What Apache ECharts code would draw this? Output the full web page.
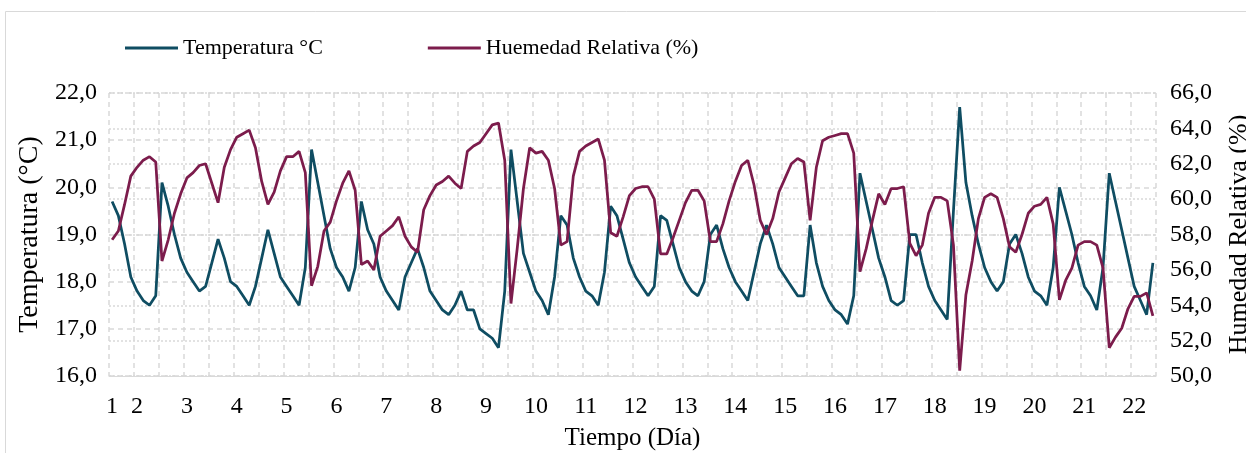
<!doctype html>
<html>
    <head>
        <meta charset="utf-8">
        <title>Temperatura y humedad relativa</title>
        <style>
            html, body { margin: 0; padding: 0; background: #fff; }
            #main { width: 1246px; height: 453px; }
        </style>
    </head>
    <body>
        <div id="main"></div>
        <script src="https://cdn.jsdelivr.net/npm/echarts@6/dist/echarts.min.js"></script>
        <script>
            // one reading every 3 hours, 8 per day
            var temperatura = [
                19.7, 19.4, 18.8, 18.1, 17.8, 17.6, 17.5, 17.7,
                20.1, 19.6, 19.0, 18.5, 18.2, 18.0, 17.8, 17.9,
                18.4, 18.9, 18.5, 18.0, 17.9, 17.7, 17.5, 17.9,
                18.5, 19.1, 18.6, 18.1, 17.9, 17.7, 17.5, 18.3,
                20.8, 20.1, 19.4, 18.7, 18.3, 18.1, 17.8, 18.3,
                19.7, 19.1, 18.8, 18.1, 17.8, 17.6, 17.4, 18.1,
                18.4, 18.7, 18.3, 17.8, 17.6, 17.4, 17.3, 17.5,
                17.8, 17.4, 17.4, 17.0, 16.9, 16.8, 16.6, 17.8,
                20.8, 19.7, 18.6, 18.2, 17.8, 17.6, 17.3, 18.1,
                19.4, 19.2, 18.5, 18.1, 17.8, 17.7, 17.5, 18.2,
                19.6, 19.4, 18.9, 18.4, 18.1, 17.9, 17.7, 17.9,
                19.4, 19.3, 18.8, 18.3, 18.0, 17.8, 17.7, 18.0,
                19.0, 19.2, 18.7, 18.3, 18.0, 17.8, 17.6, 18.2,
                18.8, 19.2, 18.8, 18.3, 18.1, 17.9, 17.7, 17.7,
                19.2, 18.4, 17.9, 17.6, 17.4, 17.3, 17.1, 17.7,
                20.3, 19.7, 19.1, 18.5, 18.1, 17.6, 17.5, 17.6,
                19.0, 19.0, 18.4, 17.9, 17.6, 17.4, 17.2, 19.5,
                21.7, 20.1, 19.4, 18.8, 18.3, 18.0, 17.8, 18.0,
                18.8, 19.0, 18.6, 18.1, 17.8, 17.7, 17.5, 18.3,
                20.0, 19.5, 19.0, 18.4, 17.9, 17.7, 17.4, 18.3,
                20.3, 19.7, 19.1, 18.5, 17.9, 17.6, 17.3, 18.4
            ];
            var humedad = [
                57.7, 58.2, 59.7, 61.3, 61.8, 62.2, 62.4, 62.1,
                56.5, 57.7, 59.2, 60.3, 61.2, 61.5, 61.9, 62.0,
                60.9, 59.8, 61.8, 62.8, 63.5, 63.7, 63.9, 62.9,
                61.0, 59.7, 60.4, 61.6, 62.4, 62.4, 62.7, 61.5,
                55.1, 56.2, 58.2, 58.7, 59.9, 60.9, 61.6, 60.5,
                56.3, 56.5, 56.0, 57.9, 58.2, 58.5, 59.0, 57.9,
                57.3, 57.0, 59.4, 60.2, 60.8, 61.0, 61.3, 60.9,
                60.6, 62.7, 63.0, 63.2, 63.7, 64.2, 64.3, 62.2,
                54.1, 57.2, 60.6, 62.9, 62.6, 62.7, 62.2, 60.6,
                57.4, 57.6, 61.3, 62.7, 63.0, 63.2, 63.4, 62.2,
                58.1, 57.9, 59.0, 60.2, 60.6, 60.7, 60.7, 60.0,
                56.9, 56.9, 57.8, 58.8, 59.8, 60.5, 60.5, 59.9,
                57.6, 57.6, 58.6, 59.9, 61.0, 61.9, 62.2, 60.8,
                58.8, 58.0, 58.9, 60.4, 61.2, 62.0, 62.3, 62.1,
                58.8, 61.8, 63.3, 63.5, 63.6, 63.7, 63.7, 62.6,
                55.9, 57.2, 58.8, 60.3, 59.7, 60.6, 60.6, 60.7,
                57.5, 56.8, 57.4, 59.2, 60.1, 60.1, 59.9, 57.4,
                50.3, 54.6, 56.5, 58.9, 60.1, 60.3, 60.1, 58.9,
                57.3, 57.0, 58.0, 59.2, 59.6, 59.7, 60.1, 58.6,
                54.3, 55.4, 56.1, 57.4, 57.6, 57.6, 57.4, 56.1,
                51.6, 52.2, 52.7, 53.8, 54.5, 54.5, 54.7, 53.4
            ];
            // day labels and the reading where each one sits
            var dayLabels = ['1', '2', '3', '4', '5', '6', '7', '8', '9', '10', '11',
                             '12', '13', '14', '15', '16', '17', '18', '19', '20', '21', '22'];
            var dayLabelIndex = [0, 4, 12, 20, 28, 36, 44, 52, 60, 68, 76,
                                 84, 92, 100, 108, 116, 124, 132, 140, 148, 156, 164];

            var labelAt = {};
            dayLabelIndex.forEach(function (idx, k) { labelAt[idx] = dayLabels[k]; });
            var categories = temperatura.map(function (v, i) { return String(i); });

            var font = 'Liberation Serif';
            var gridColor = '#d9d9d9';
            var fmt = function (v) { return v.toFixed(1).replace('.', ','); };

            var chart = echarts.init(document.getElementById('main'));

            chart.setOption({
                animation: false,
                graphic: [{
                    type: 'rect',
                    shape: { x: 5.5, y: 11.5, width: 1300, height: 500 },
                    style: { fill: 'none', stroke: gridColor, lineWidth: 1 },
                    silent: true
                }],
                legend: {
                    left: 125,
                    top: 37,
                    padding: 0,
                    icon: 'rect',
                    itemWidth: 53,
                    itemHeight: 3,
                    itemGap: 105,
                    textStyle: { fontFamily: font, fontSize: 22, color: '#000' },
                    data: ['Temperatura °C', 'Huemedad Relativa (%)']
                },
                grid: {
                    left: 109,
                    right: 90,
                    top: 93,
                    bottom: 77,
                    containLabel: false,
                    outerBoundsMode: 'none'
                },
                xAxis: {
                    type: 'category',
                    data: categories,
                    boundaryGap: true,
                    name: 'Tiempo (Día)',
                    nameLocation: 'middle',
                    nameGap: 50,
                    nameTextStyle: { fontFamily: font, fontSize: 25, color: '#000' },
                    axisLine: { show: true, lineStyle: { color: gridColor, width: 1 } },
                    axisTick: { show: false },
                    axisLabel: {
                        interval: function (idx) { return labelAt[idx] !== undefined; },
                        formatter: function (v, idx) { return labelAt[idx] || ''; },
                        margin: 19,
                        fontFamily: font,
                        fontSize: 24,
                        color: '#000'
                    },
                    splitLine: {
                        show: true,
                        interval: 3,
                        lineStyle: { color: gridColor, width: 1.5, type: [5, 4] }
                    }
                },
                yAxis: [{
                    type: 'value',
                    min: 16,
                    max: 22,
                    interval: 1,
                    name: 'Temperatura (°C)',
                    nameLocation: 'middle',
                    nameRotate: 90,
                    nameGap: 65,
                    nameTextStyle: { fontFamily: font, fontSize: 28, color: '#000' },
                    axisLine: { show: false },
                    axisTick: { show: false },
                    axisLabel: { formatter: fmt, margin: 12, fontFamily: font, fontSize: 24, color: '#000' },
                    splitLine: { lineStyle: { color: gridColor, width: 1.5, type: [5, 4] } }
                }, {
                    type: 'value',
                    position: 'right',
                    min: 50,
                    max: 66,
                    interval: 2,
                    name: 'Humedad Relativa (%)',
                    nameLocation: 'middle',
                    nameRotate: 90,
                    nameGap: 70,
                    nameTextStyle: { fontFamily: font, fontSize: 26, color: '#000' },
                    axisLine: { show: false },
                    axisTick: { show: false },
                    axisLabel: { formatter: fmt, margin: 14, fontFamily: font, fontSize: 24, color: '#000' },
                    splitLine: { lineStyle: { color: gridColor, width: 1.5, type: [2, 2] } }
                }],
                series: [{
                    name: 'Temperatura °C',
                    type: 'line',
                    yAxisIndex: 0,
                    data: temperatura,
                    symbol: 'none',
                    lineStyle: { color: '#0f4d62', width: 2.75 },
                    itemStyle: { color: '#0f4d62' }
                }, {
                    name: 'Huemedad Relativa (%)',
                    type: 'line',
                    yAxisIndex: 1,
                    data: humedad,
                    symbol: 'none',
                    lineStyle: { color: '#7c1c4c', width: 2.75 },
                    itemStyle: { color: '#7c1c4c' }
                }]
            });

            window.addEventListener('resize', function () {
                chart.resize();
            });
        </script>
    </body>
</html>
